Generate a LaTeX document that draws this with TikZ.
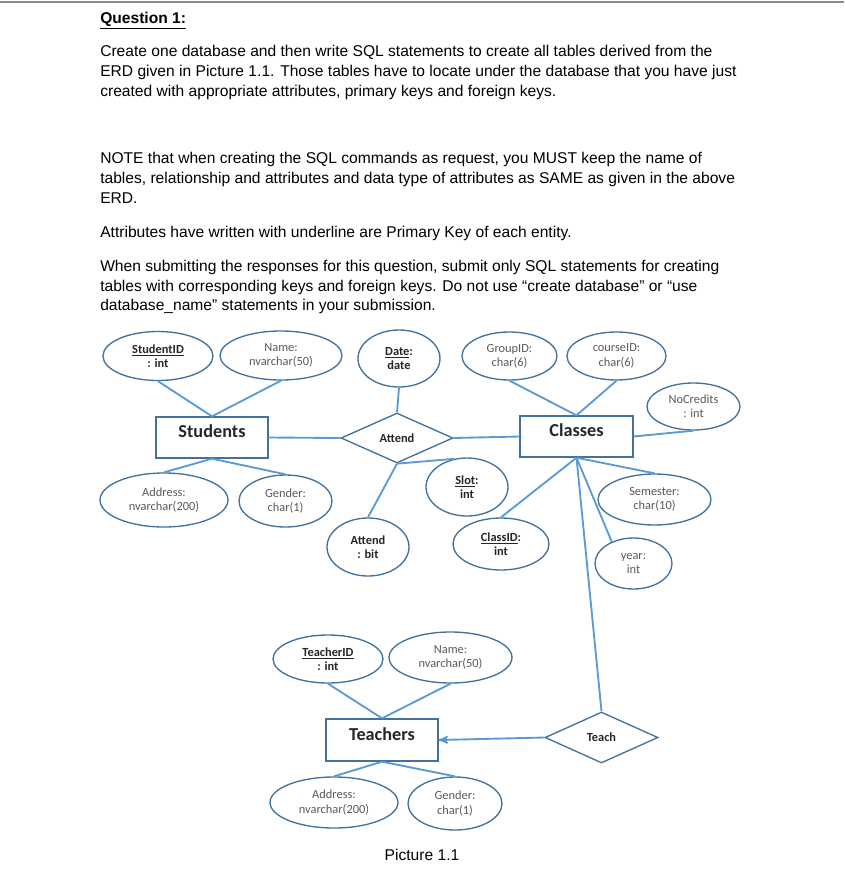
\documentclass[tikz,border=0pt]{standalone}
\usepackage{fontspec}
\setmainfont{Liberation Sans}
\newfontfamily\erdfont{Carlito}
\usetikzlibrary{arrows,shapes.geometric}
\definecolor{edgeblue}{HTML}{5B9BD5}
\definecolor{shapeblue}{HTML}{41719C}
\definecolor{attrgray}{HTML}{595959}

\begin{document}
\begin{tikzpicture}[x=0.75pt,y=-0.75pt,
  body/.style={anchor=base west,inner sep=0,font=\fontsize{11.7}{14}\selectfont},
  attr node/.style={ellipse,draw=shapeblue,line width=1pt,inner sep=0,align=center,text=attrgray,font=\erdfont\fontsize{9.3}{10.7}\selectfont},
  key node/.style={attr node,text=black!85,font=\erdfont\bfseries\fontsize{9.3}{10.7}\selectfont},
  entity node/.style={rectangle,draw=shapeblue,line width=1pt,minimum width=84pt,minimum height=30.75pt,text height=8pt,text depth=8pt,text=black!85,font=\erdfont\bfseries\fontsize{13.7}{16}\selectfont},
  rel node/.style={diamond,draw=shapeblue,line width=1pt,inner sep=0,text=black!85,font=\erdfont\bfseries\fontsize{9.3}{11}\selectfont},
  link/.style={draw=edgeblue,line width=1.4pt}]
  \useasboundingbox (0,0) rectangle (844,871);
  \draw[gray!90,line width=1.5pt] (0,1.5) -- (844,1.5);

  % question text
  \node[body,font=\bfseries\fontsize{11.7}{14}\selectfont] (title) at (100,23) {\underline{Question 1:}};
  \node[body] (p1a) at (100,56) {Create one database and then write SQL statements to create all tables derived from the};
  \node[body] (p1b) at (100,76) {ERD given in Picture 1.1. Those tables have to locate under the database that you have just};
  \node[body] (p1c) at (100,96) {created with appropriate attributes, primary keys and foreign keys.};
  \node[body] (p2a) at (100,163) {NOTE that when creating the SQL commands as request, you MUST keep the name of};
  \node[body] (p2b) at (100,183) {tables, relationship and attributes and data type of attributes as SAME as given in the above};
  \node[body] (p2c) at (100,203) {ERD.};
  \node[body] (p3) at (100,237) {Attributes have written with underline are Primary Key of each entity.};
  \node[body] (p4a) at (100,271) {When submitting the responses for this question, submit only SQL statements for creating};
  \node[body] (p4b) at (100,291) {tables with corresponding keys and foreign keys. Do not use “create database” or “use};
  \node[body] (p4c) at (100,310) {database\_name” statements in your submission.};

  % entities and relationships
  \node[entity node] (stu) at (212,437.5) {Students};
  \node[entity node,minimum width=84.75pt] (cls) at (576.5,436.5) {Classes};
  \node[entity node,minimum height=31.5pt] (tch) at (382,740) {Teachers};
  \node[rel node,minimum width=84pt,minimum height=37.5pt] (attend) at (397,438) {Attend};
  \node[rel node,minimum width=84.75pt,minimum height=38.25pt] (teach) at (601.5,737.5) {Teach};

  % attributes
  \node[key node,minimum width=82.5pt,minimum height=36.75pt] (sid) at (158,356) {\underline{StudentID}\\: int};
  \node[attr node,minimum width=91.5pt,minimum height=36.75pt] (sname) at (281,355.5) {Name:\\nvarchar(50)};
  \node[attr node,minimum width=96pt,minimum height=40.5pt] (saddr) at (164,500) {Address:\\nvarchar(200)};
  \node[attr node,minimum width=69.75pt,minimum height=39pt] (sgender) at (285.5,501) {Gender:\\char(1)};
  \node[key node,minimum width=61.5pt,minimum height=42.75pt] (date) at (399,358.5) {\underline{Date}:\\date};
  \node[key node,minimum width=61.5pt,minimum height=43.5pt] (slot) at (467,487) {\underline{Slot}:\\int};
  \node[key node,minimum width=61.5pt,minimum height=43.5pt] (abit) at (368,547) {Attend\\: bit};
  \node[attr node,minimum width=71.25pt,minimum height=36pt] (groupid) at (509.5,356) {GroupID:\\char(6)};
  \node[attr node,minimum width=74.25pt,minimum height=36pt] (courseid) at (616.5,356) {courseID:\\char(6)};
  \node[attr node,minimum width=69.75pt,minimum height=35.25pt] (nocr) at (693.5,406.5) {NoCredits\\: int};
  \node[key node,minimum width=72pt,minimum height=39pt] (classid) at (501,544) {\underline{ClassID}:\\int};
  \node[attr node,minimum width=84.75pt,minimum height=38.25pt] (semester) at (654.5,499.5) {Semester:\\char(10)};
  \node[attr node,minimum width=57.75pt,minimum height=38.25pt] (year) at (633.5,563.5) {year:\\int};
  \node[key node,minimum width=82.5pt,minimum height=36pt] (tid) at (328,659) {\underline{TeacherID}\\: int};
  \node[attr node,minimum width=92.25pt,minimum height=38.25pt] (tname) at (450.5,657.5) {Name:\\nvarchar(50)};
  \node[attr node,minimum width=96pt,minimum height=38.25pt] (taddr) at (334,802.5) {Address:\\nvarchar(200)};
  \node[attr node,minimum width=70.5pt,minimum height=39.75pt] (tgender) at (455,803.5) {Gender:\\char(1)};

  \node[font=\fontsize{11.7}{14}\selectfont] (caption) at (422,855) {Picture 1.1};

  \path[link]
    (sid.south) edge (stu.north)
    (sname.south) edge (stu.north)
    (stu.south) edge (saddr.north)
    (stu.south) edge (sgender.north)
    (stu.east) edge (attend.west)
    (date.south) edge (attend.north)
    (attend.south) edge (abit.north)
    (attend.south) edge (slot.115)
    (attend.east) edge (cls.west)
    (groupid.south) edge (cls.north)
    (courseid.south) edge (cls.north)
    (cls.east) edge (nocr.south)
    (cls.south) edge (classid.north)
    (cls.south) edge (semester.north)
    (cls.south) edge (year.135)
    (cls.south) edge (teach.north)
    (tid.south) edge (tch.north)
    (tname.south) edge (tch.north)
    (tch.south) edge (taddr.north)
    (tch.south) edge (tgender.north)
    (teach.west) edge[-stealth'] (tch.east);
\end{tikzpicture}
\end{document}
